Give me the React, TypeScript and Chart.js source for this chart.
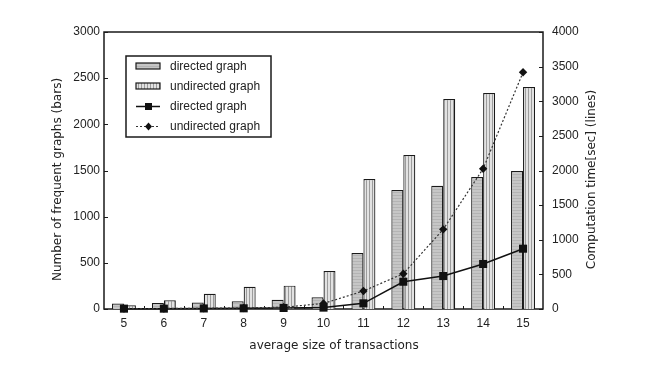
import React, { useEffect, useRef } from 'react';
import { Chart, registerables } from 'chart.js';

Chart.register(...registerables);

const categories = ['5', '6', '7', '8', '9', '10', '11', '12', '13', '14', '15'];
const barsDirected = [60, 65, 70, 83, 100, 127, 607, 1290, 1335, 1430, 1495];
const barsUndirected = [40, 95, 165, 240, 253, 412, 1408, 1668, 2275, 2340, 2405];
const timeDirected = [5, 5, 8, 10, 15, 20, 82, 394, 476, 650, 871];
const timeUndirected = [5, 8, 10, 15, 25, 80, 260, 510, 1150, 2026, 3418];
const seriesLabels = ['directed graph', 'undirected graph', 'directed graph', 'undirected graph'];
const xTitle = 'average size of transactions';
const yTitle = 'Number of frequent graphs (bars)';
const y1Title = 'Computation time[sec] (lines)';
const leftMax = 3000;
const rightMax = 4000;
const tickStep = 500;

const FONT = "'Liberation Sans', Arial, sans-serif";
const TITLE_FONT = "'DejaVu Sans', 'Liberation Sans', sans-serif";
const TEXT = '#222222';

function makePattern(kind: 'directed' | 'undirected'): CanvasPattern | string {
  const c = document.createElement('canvas');
  c.width = 3;
  c.height = 3;
  const g = c.getContext('2d');
  if (!g) return '#c8c8c8';
  if (kind === 'directed') {
    g.fillStyle = '#c6c6c6';
    g.fillRect(0, 0, 3, 3);
    g.fillStyle = '#b4b4b4';
    g.fillRect(0, 0, 3, 1);
  } else {
    g.fillStyle = '#e2e2e2';
    g.fillRect(0, 0, 3, 3);
    g.fillStyle = '#9c9c9c';
    g.fillRect(0, 0, 1, 3);
  }
  const p = g.createPattern(c, 'repeat');
  return p || '#c8c8c8';
}

const framePlugin = {
  id: 'framePlugin',
  beforeDatasetsDraw(chart: any) {
    const ctx: CanvasRenderingContext2D = chart.ctx;
    const ca = chart.chartArea;
    const xs = chart.scales.x;
    const ys = chart.scales.y;
    const y1s = chart.scales.y1;
    ctx.save();
    ctx.strokeStyle = '#1a1a1a';
    ctx.lineWidth = 1.5;
    ctx.strokeRect(ca.left, ca.top, ca.right - ca.left, ca.bottom - ca.top);
    ctx.lineWidth = 1;
    ctx.beginPath();
    ys.ticks.forEach((t: any) => {
      const p = Math.round(ys.getPixelForValue(t.value)) + 0.5;
      ctx.moveTo(ca.left, p);
      ctx.lineTo(ca.left + 4, p);
    });
    y1s.ticks.forEach((t: any) => {
      const p = Math.round(y1s.getPixelForValue(t.value)) + 0.5;
      ctx.moveTo(ca.right, p);
      ctx.lineTo(ca.right - 4, p);
    });
    for (let i = 0; i < categories.length - 1; i++) {
      const p = Math.round((xs.getPixelForValue(i) + xs.getPixelForValue(i + 1)) / 2) + 0.5;
      ctx.moveTo(p, ca.bottom);
      ctx.lineTo(p, ca.bottom - 3);
    }
    ctx.stroke();
    ctx.restore();
  },
  afterDraw(chart: any) {
    const ctx: CanvasRenderingContext2D = chart.ctx;
    const ca = chart.chartArea;
    ctx.save();
    ctx.fillStyle = TEXT;
    ctx.font = `12px ${TITLE_FONT}`;
    ctx.textAlign = 'center';
    ctx.textBaseline = 'middle';

    // x axis title
    ctx.fillText(xTitle, 334, 346);

    // left axis title
    ctx.save();
    ctx.translate(58, (ca.top + ca.bottom) / 2 + 9);
    ctx.rotate(-Math.PI / 2);
    ctx.fillText(yTitle, 0, 0);
    ctx.restore();

    // right axis title (reads bottom to top)
    ctx.save();
    ctx.translate(592, (ca.top + ca.bottom) / 2 + 9);
    ctx.rotate(-Math.PI / 2);
    ctx.fillText(y1Title, 0, 0);
    ctx.restore();

    // legend
    const bx = 126, by = 56, bw = 145, bh = 81;
    ctx.fillStyle = '#ffffff';
    ctx.fillRect(bx, by, bw, bh);
    ctx.strokeStyle = '#1a1a1a';
    ctx.lineWidth = 1.5;
    ctx.strokeRect(bx, by, bw, bh);
    const rows = [66, 86, 106, 126];
    const ds = chart.data.datasets;
    ctx.font = `12px ${FONT}`;
    ctx.textBaseline = 'middle';
    ctx.textAlign = 'left';
    rows.forEach((ry: number, i: number) => {
      const d = ds[i];
      if (i < 2) {
        ctx.fillStyle = d.backgroundColor;
        ctx.fillRect(136, ry - 3, 24, 6);
        ctx.strokeStyle = '#1a1a1a';
        ctx.lineWidth = 1.2;
        ctx.strokeRect(136, ry - 3, 24, 6);
      } else {
        ctx.strokeStyle = d.borderColor;
        ctx.lineWidth = d.borderWidth;
        ctx.setLineDash(d.borderDash || []);
        ctx.beginPath();
        ctx.moveTo(136, ry + 0.5);
        ctx.lineTo(160, ry + 0.5);
        ctx.stroke();
        ctx.setLineDash([]);
        ctx.fillStyle = '#111111';
        ctx.beginPath();
        if (i === 2) {
          ctx.rect(145, ry - 3, 7, 7);
        } else {
          ctx.moveTo(148.5, ry - 3.5);
          ctx.lineTo(152, ry + 0.5);
          ctx.lineTo(148.5, ry + 4.5);
          ctx.lineTo(145, ry + 0.5);
          ctx.closePath();
        }
        ctx.fill();
      }
      ctx.fillStyle = TEXT;
      ctx.fillText(seriesLabels[i], 170, ry + 0.5);
    });
    ctx.restore();
  },
};

export default function App() {
  const ref = useRef<HTMLCanvasElement | null>(null);

  useEffect(() => {
    if (!ref.current) return;
    const font = { family: FONT, size: 12 };
    const plain = (v: any) => String(v);
    const chart = new Chart(ref.current, {
      type: 'bar',
      data: {
        labels: categories,
        datasets: [
          {
            type: 'bar',
            label: seriesLabels[0],
            data: barsDirected,
            backgroundColor: makePattern('directed') as any,
            borderColor: '#1a1a1a',
            borderWidth: 1.2,
            yAxisID: 'y',
            categoryPercentage: 0.6,
            barPercentage: 1,
            order: 2,
          },
          {
            type: 'bar',
            label: seriesLabels[1],
            data: barsUndirected,
            backgroundColor: makePattern('undirected') as any,
            borderColor: '#1a1a1a',
            borderWidth: 1.2,
            yAxisID: 'y',
            categoryPercentage: 0.6,
            barPercentage: 1,
            order: 2,
          },
          {
            type: 'line',
            label: seriesLabels[2],
            data: timeDirected,
            borderColor: '#111111',
            backgroundColor: '#111111',
            borderWidth: 1.5,
            pointStyle: 'rect',
            pointRadius: 5.7,
            pointBorderWidth: 0,
            yAxisID: 'y1',
            clip: false,
            order: 1,
          },
          {
            type: 'line',
            label: seriesLabels[3],
            data: timeUndirected,
            borderColor: '#333333',
            backgroundColor: '#111111',
            borderWidth: 1.2,
            borderDash: [2, 2],
            pointStyle: 'rectRot',
            pointRadius: 4.2,
            pointBorderWidth: 0,
            yAxisID: 'y1',
            clip: false,
            order: 0,
          },
        ] as any,
      },
      options: {
        responsive: false,
        animation: false,
        layout: { padding: { top: 32, left: 0, right: 0, bottom: 0 } },
        plugins: {
          legend: { display: false },
          tooltip: { enabled: false },
        },
        scales: {
          x: {
            type: 'category',
            offset: true,
            grid: { display: false, drawTicks: false, offset: true },
            border: { display: false },
            ticks: { font, color: TEXT, padding: 7, maxRotation: 0 },
            afterFit: (s: any) => {
              s.height = 59;
            },
          },
          y: {
            position: 'left',
            min: 0,
            max: leftMax,
            grid: { display: false, drawTicks: false },
            border: { display: false },
            ticks: { stepSize: tickStep, font, color: TEXT, padding: 4, callback: plain },
            afterFit: (s: any) => {
              s.width = 104;
            },
          },
          y1: {
            position: 'right',
            min: 0,
            max: rightMax,
            grid: { display: false, drawTicks: false },
            border: { display: false },
            ticks: { stepSize: tickStep, font, color: TEXT, padding: 9, callback: plain },
            afterFit: (s: any) => {
              s.width = 106;
            },
          },
        },
      } as any,
      plugins: [framePlugin],
    });
    return () => chart.destroy();
  }, []);

  return (
    <div style={{ position: 'fixed', left: 0, top: 0, width: 649, height: 368, background: '#ffffff' }}>
      <canvas ref={ref} width={649} height={368} style={{ width: 649, height: 368 }} />
    </div>
  );
}
